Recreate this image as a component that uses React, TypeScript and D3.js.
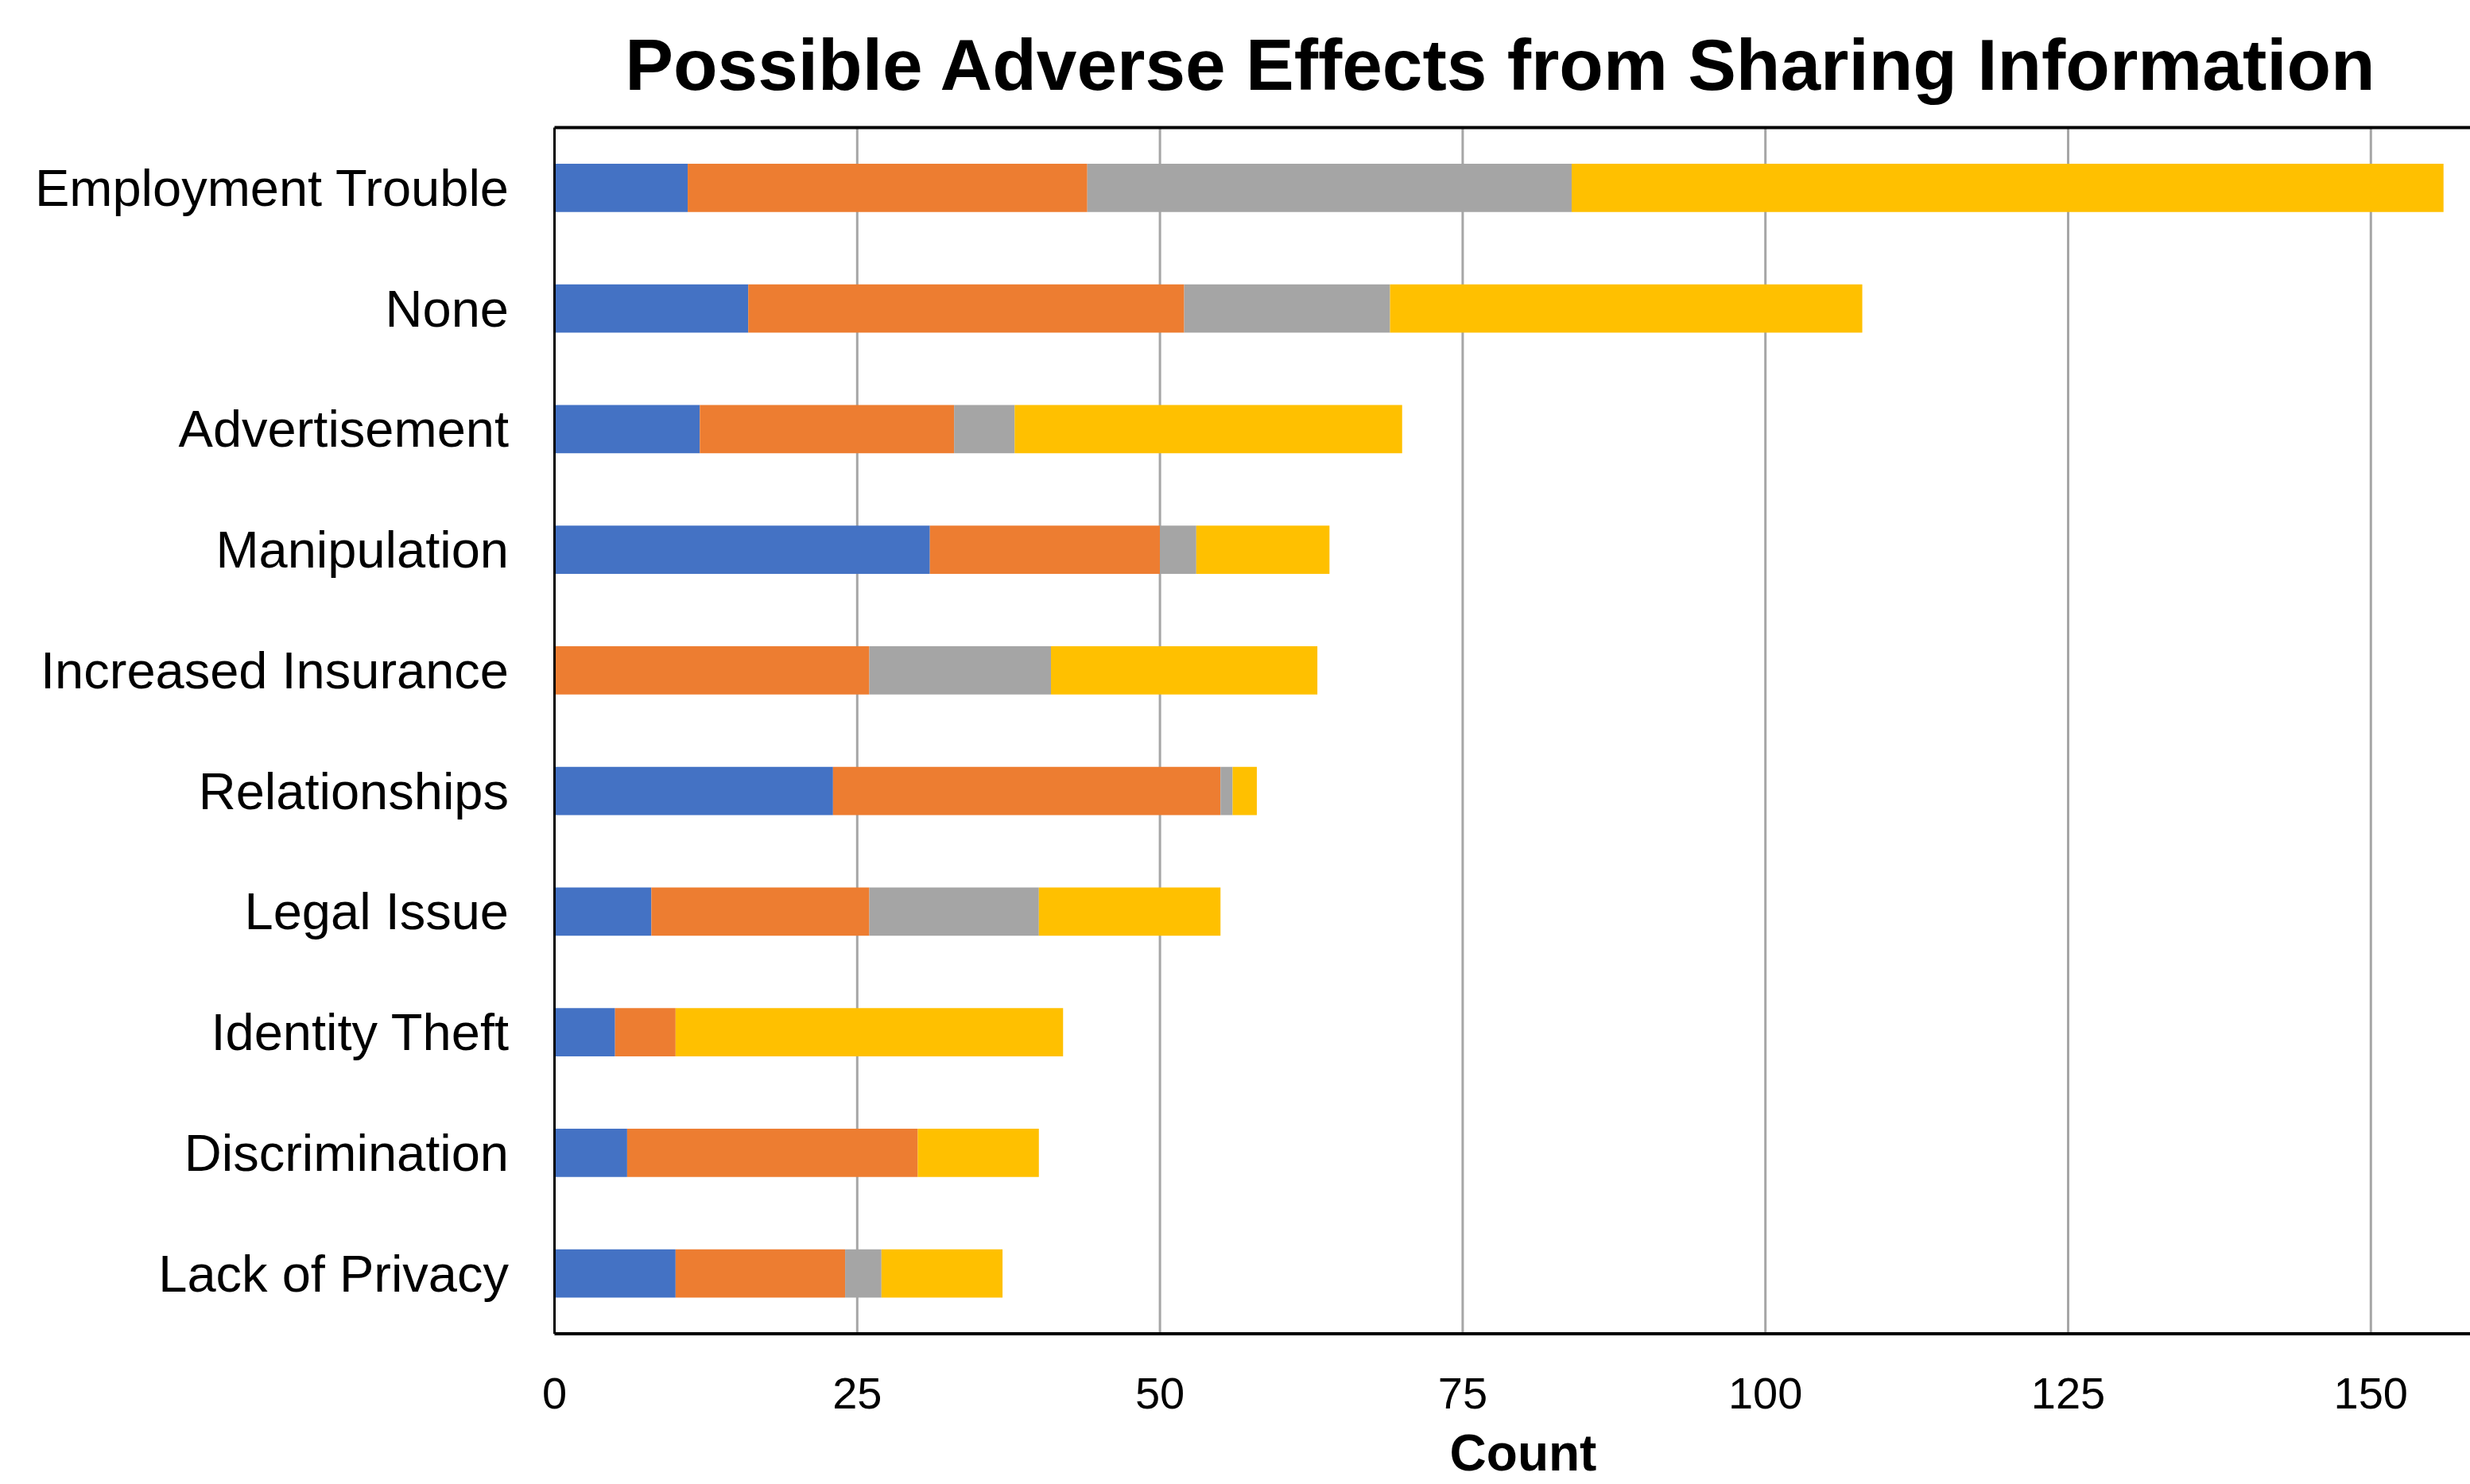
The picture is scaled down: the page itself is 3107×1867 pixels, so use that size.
import React from "react";
import * as d3 from "d3";

const categories = [
  "Employment Trouble",
  "None",
  "Advertisement",
  "Manipulation",
  "Increased Insurance",
  "Relationships",
  "Legal Issue",
  "Identity Theft",
  "Discrimination",
  "Lack of Privacy",
];
const seriesNames = ["S1", "S2", "S3", "S4"];
const s1 = [11, 16, 12, 31, 0, 23, 8, 5, 6, 10];
const s2 = [33, 36, 21, 19, 26, 32, 18, 5, 24, 14];
const s3 = [40, 17, 5, 3, 15, 1, 14, 0, 0, 3];
const s4 = [72, 39, 32, 11, 22, 2, 15, 32, 10, 10];
const colors = ["#4472C4", "#ED7D31", "#A5A5A5", "#FFC000"];
const xTicks = [0, 25, 50, 75, 100, 125, 150];
const title = "Possible Adverse Effects from Sharing Information";
const xTitle = "Count";

const W = 3107;
const H = 1867;
const M = { left: 697.5, right: 3107, top: 160.5, bottom: 1678 };

export default function App() {
  const rows = categories.map((c, i) => ({
    cat: c,
    S1: s1[i],
    S2: s2[i],
    S3: s3[i],
    S4: s4[i],
  }));
  const stack = d3.stack<any>().keys(seriesNames)(rows);
  const x = d3
    .scaleLinear()
    .domain([0, 25])
    .range([M.left, M.left + 380.8]);
  const y = d3
    .scaleBand()
    .domain(categories)
    .range([M.top, M.bottom])
    .paddingInner(0.6)
    .paddingOuter(0.3);
  const font = "'Liberation Sans', Arial, sans-serif";
  return (
    <svg
      width={W}
      height={H}
      style={{ position: "fixed", left: 0, top: 0, background: "#fff" }}
      fontFamily={font}
    >
      <rect x={0} y={0} width={W} height={H} fill="#fff" />
      {xTicks.slice(1).map((t) => (
        <line
          key={t}
          x1={x(t)}
          x2={x(t)}
          y1={M.top}
          y2={M.bottom}
          stroke="#A6A6A6"
          strokeWidth={3}
        />
      ))}
      {stack.map((layer, li) => (
        <g key={li} fill={colors[li]}>
          {layer.map((d, i) =>
            d[1] - d[0] > 0 ? (
              <rect
                key={i}
                x={x(d[0])}
                width={x(d[1]) - x(d[0])}
                y={y(categories[i])}
                height={y.bandwidth()}
              />
            ) : null
          )}
        </g>
      ))}
      <line x1={M.left} x2={M.right} y1={M.top} y2={M.top} stroke="#000" strokeWidth={4} />
      <line x1={M.left} x2={M.right} y1={M.bottom} y2={M.bottom} stroke="#000" strokeWidth={4} />
      <line x1={M.left} x2={M.left} y1={M.top} y2={M.bottom} stroke="#000" strokeWidth={3} />
      {categories.map((c) => (
        <text
          key={c}
          x={640}
          y={(y(c) as number) + y.bandwidth() / 2}
          textAnchor="end"
          dominantBaseline="central"
          fontSize={65}
          fill="#000"
        >
          {c}
        </text>
      ))}
      {xTicks.map((t) => (
        <text
          key={t}
          x={x(t)}
          y={1752}
          textAnchor="middle"
          dominantBaseline="central"
          fontSize={56}
          fill="#000"
        >
          {t}
        </text>
      ))}
      <text
        x={1916}
        y={1850}
        textAnchor="middle"
        fontSize={64}
        fontWeight="bold"
        fill="#000"
      >
        {xTitle}
      </text>
      <text
        x={1887}
        y={113}
        textAnchor="middle"
        fontSize={91}
        fontWeight="bold"
        fill="#000"
      >
        {title}
      </text>
    </svg>
  );
}
